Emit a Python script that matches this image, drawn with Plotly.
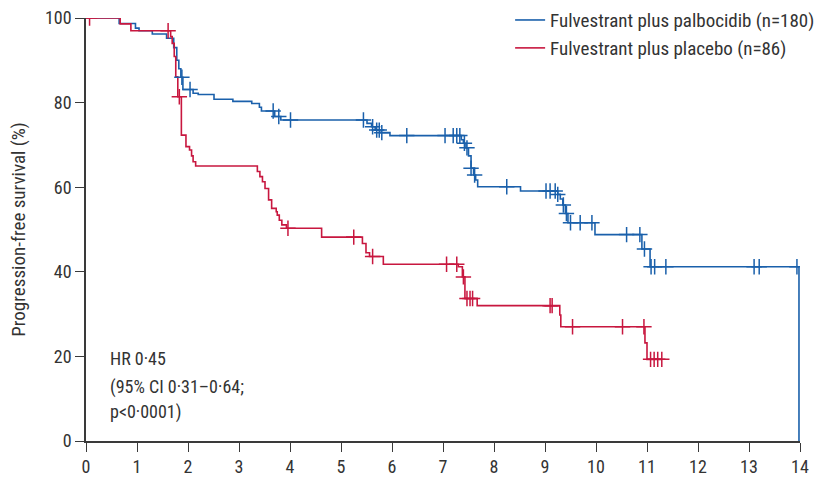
import numpy as np
import plotly.graph_objects as go

# ---- Data ----
blue_name = "Fulvestrant plus palbocidib (n=180)"
red_name = "Fulvestrant plus placebo (n=86)"

blue_t = [0, 0.65, 0.97, 1.04, 1.30, 1.58, 1.72, 1.78, 1.82, 1.86, 1.90, 2.10, 2.20, 2.51,
          2.88, 3.25, 3.40, 3.44, 3.70, 3.82, 5.51, 5.60, 5.67, 5.76, 5.96, 7.36, 7.40,
          7.45, 7.50, 7.55, 7.60, 7.64, 7.68, 8.52, 9.25, 9.30, 9.35, 9.40, 9.45, 9.98,
          10.90, 11.06, 13.98]
blue_s = [100, 98.7, 97.6, 97.0, 96.2, 95.2, 93.0, 90.0, 88.0, 86.0, 83.1, 82.2, 81.9, 80.8,
          80.3, 79.8, 78.9, 78.0, 76.7, 75.9, 75.1, 74.3, 73.5, 72.9, 72.2, 71.2, 70.4,
          69.3, 67.4, 64.5, 62.9, 61.7, 60.1, 59.1, 58.3, 57.2, 55.8, 53.8, 51.6, 48.8,
          45.4, 41.2, 0]
blue_cens = [1.88, 2.04, 3.67, 3.78, 4.01, 5.44, 5.62, 5.70, 5.75, 5.80, 6.29, 7.04, 7.20,
             7.27, 7.33, 7.42, 7.47, 7.55, 7.62, 8.25, 9.02, 9.10, 9.20, 9.25, 9.36, 9.42,
             9.50, 9.69, 9.92, 10.60, 10.86, 10.95, 11.08, 11.15, 11.37, 13.10, 13.20, 13.94]

red_t = [0, 0.67, 0.88, 1.66, 1.69, 1.73, 1.76, 1.80, 1.87, 1.96, 2.03, 2.07, 2.10, 2.15,
         3.36, 3.41, 3.46, 3.51, 3.58, 3.64, 3.73, 3.75, 3.79, 3.84, 3.93, 4.62, 5.42,
         5.49, 5.56, 5.83, 7.30, 7.38, 7.43, 7.67, 9.29, 9.31, 10.96, 11.00]
red_s = [100, 98.6, 97.0, 95.6, 94.0, 90.9, 86.1, 81.4, 72.3, 69.6, 68.8, 67.4, 66.0, 65.0,
         63.7, 62.5, 61.3, 59.7, 57.0, 55.0, 54.2, 53.4, 52.2, 51.1, 50.3, 48.2, 46.7,
         44.5, 43.6, 41.8, 41.2, 38.8, 33.7, 32.0, 29.8, 27.0, 23.2, 19.3]
red_cens = [0.07, 1.61, 1.83, 3.96, 5.25, 5.62, 7.07, 7.27, 7.40, 7.47, 7.53, 7.58, 9.10,
            9.14, 9.54, 10.52, 10.94, 11.07, 11.14, 11.21, 11.29]

x_ticks = list(range(0, 15))
y_ticks = [0, 20, 40, 60, 80, 100]

annot_lines = ["HR 0·45", "(95% CI 0·31–0·64;", "p<0·0001)"]
y_title = "Progression-free survival (%)"

BLUE = "#1a60ab"
RED = "#c8173f"
AXC = "#3a3a3a"
FONT = "Liberation Sans Narrow, Roboto Condensed, Arial Narrow, sans-serif"


def step_val(times, surv, q):
    idx = np.searchsorted(np.array(times), np.array(q), side="right") - 1
    return [surv[i] for i in idx]


fig = go.Figure()

fig.add_trace(go.Scatter(x=blue_t, y=blue_s, mode="lines", line=dict(color=BLUE, width=1.6, shape="hv"),
                         name=blue_name, legend="legend", hoverinfo="skip"))
red_x = red_t + [max(red_cens)]
red_y = red_s + [red_s[-1]]
fig.add_trace(go.Scatter(x=red_x, y=red_y, mode="lines", line=dict(color=RED, width=1.6, shape="hv"),
                         name=red_name, legend="legend2", hoverinfo="skip"))

fig.add_trace(go.Scatter(x=blue_cens, y=step_val(blue_t, blue_s, blue_cens), mode="markers",
                         marker=dict(symbol="cross-thin", size=11, line=dict(color=BLUE, width=1.5)),
                         showlegend=False, hoverinfo="skip"))
fig.add_trace(go.Scatter(x=red_cens, y=step_val(red_x, red_y, red_cens), mode="markers",
                         marker=dict(symbol="cross-thin", size=11, line=dict(color=RED, width=1.5)),
                         showlegend=False, hoverinfo="skip"))

for txt, yy in zip(annot_lines, [0.196, 0.128, 0.0686]):
    fig.add_annotation(text=txt, x=0.031, y=yy, xref="paper", yref="paper", xanchor="left",
                       yanchor="middle", showarrow=False, font=dict(size=18, color="#333", family=FONT))

fig.update_layout(
    width=815, height=477,
    margin=dict(l=86, r=15, t=18, b=36, autoexpand=False),
    paper_bgcolor="white", plot_bgcolor="white",
    font=dict(family=FONT, size=18, color="#333"),
    legend=dict(x=0.594, y=0.995, xanchor="left", yanchor="middle", bgcolor="rgba(0,0,0,0)",
                itemwidth=30, font=dict(size=19, family=FONT, color="#333")),
    legend2=dict(x=0.594, y=0.929, xanchor="left", yanchor="middle", bgcolor="rgba(0,0,0,0)",
                 itemwidth=30, font=dict(size=19, family=FONT, color="#333")),
    xaxis=dict(range=[0, 14], tickvals=x_ticks, ticktext=[str(v) for v in x_ticks],
               showgrid=False, zeroline=False, showline=True, linecolor=AXC, linewidth=1.5,
               ticks="outside", ticklen=9, tickwidth=1.3, tickcolor=AXC, automargin=False,
               tickfont=dict(size=18, color="#333")),
    yaxis=dict(range=[0, 100], tickvals=y_ticks, ticktext=[str(v) for v in y_ticks],
               showgrid=False, zeroline=False, showline=True, linecolor=AXC, linewidth=1.5,
               ticks="outside", ticklen=9, tickwidth=1.3, tickcolor=AXC, automargin=False,
               tickfont=dict(size=18, color="#333"),
               title=dict(text=y_title, font=dict(size=19, color="#333"), standoff=14)),
)

fig.write_html("out.html")
